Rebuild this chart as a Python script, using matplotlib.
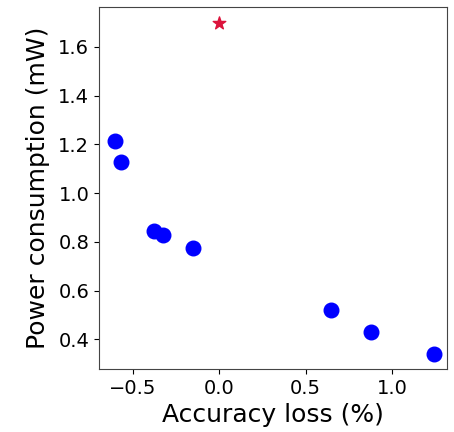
import matplotlib
matplotlib.use("Agg")
import matplotlib.pyplot as plt

# accuracy loss (%) vs power (mW) of the candidate configurations
acc_loss = [-0.604, -0.571, -0.378, -0.324, -0.154, 0.645, 0.877, 1.243]
power = [1.215, 1.126, 0.846, 0.828, 0.773, 0.520, 0.428, 0.339]

# baseline
base_loss = [0.0]
base_power = [1.697]

fig = plt.figure(figsize=(4.54, 4.32), dpi=100)
ax = fig.add_axes([99 / 454, 1 - 369 / 432, 348 / 454, 362 / 432])

ax.scatter(acc_loss, power, s=110, color="blue", zorder=3)
ax.scatter(base_loss, base_power, s=90, marker="*", color="crimson", zorder=3)

ax.set_xlim(-0.697, 1.318)
ax.set_ylim(0.278, 1.764)
ax.set_xticks([-0.5, 0.0, 0.5, 1.0])
ax.set_yticks([0.4, 0.6, 0.8, 1.0, 1.2, 1.4, 1.6])
ax.tick_params(labelsize=14)
for s in ax.spines.values():
    s.set_color("#444444")
ax.set_xlabel("Accuracy loss (%)", fontsize=18, labelpad=4)
ax.set_ylabel("Power consumption (mW)", fontsize=18, labelpad=6)

fig.savefig("out.png", dpi=100)
